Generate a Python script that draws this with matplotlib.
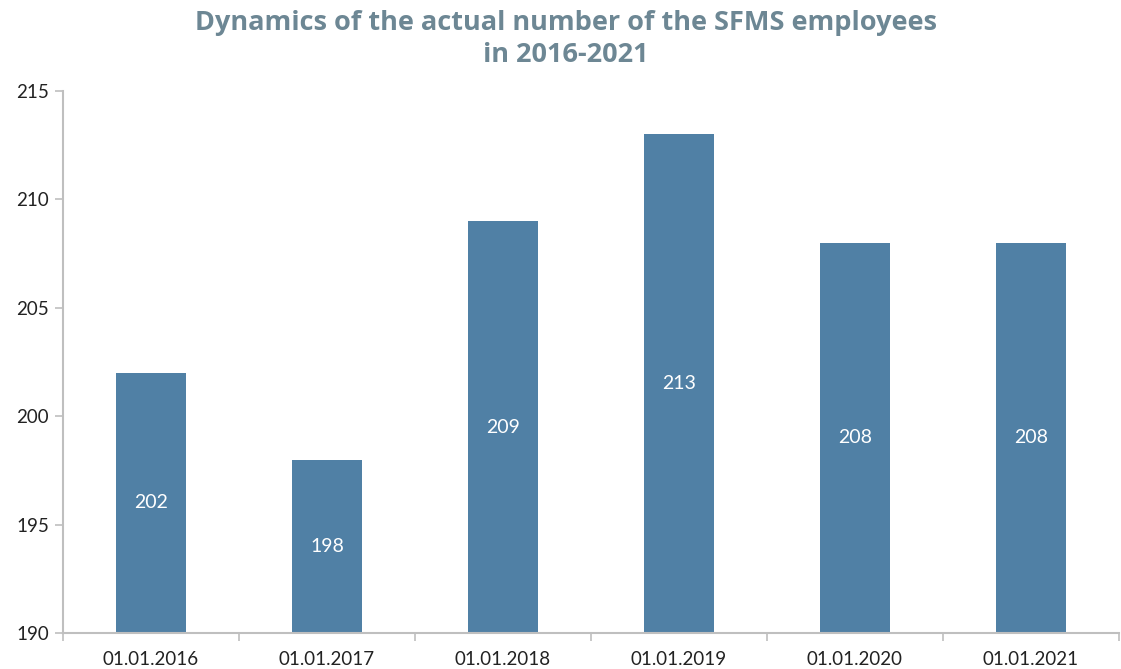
import matplotlib.pyplot as plt
import numpy as np

dates = ['01.01.2016', '01.01.2017', '01.01.2018', '01.01.2019', '01.01.2020', '01.01.2021']
employees = [202, 198, 209, 213, 208, 208]
y_ticks = [190, 195, 200, 205, 210, 215]

plt.rcParams['font.family'] = ['Lato', 'DejaVu Sans']

fig = plt.figure(figsize=(11.21, 6.69), dpi=100)
ax = fig.add_axes([0.0562, 0.0538, 0.942, 0.8102])

x = np.arange(len(dates))
ax.bar(x, employees, width=0.4, color='#5080a5', zorder=2)

# value labels, centred between the axis floor and the bar top
for xi, v in zip(x, employees):
    ax.text(xi, (v + 190) / 2, str(v), ha='center', va='center',
            color='white', fontsize=14)

ax.set_ylim(190, 215)
ax.set_xlim(-0.5, len(dates) - 0.5)
ax.set_yticks(y_ticks)
ax.set_yticklabels([str(t) for t in y_ticks], fontsize=13.5, color='#222222')

ax.set_xticks(x)
ax.set_xticklabels(dates, fontsize=13.5, color='#222222')
ax.tick_params(axis='x', length=0, pad=13)
ax.set_xticks(np.arange(len(dates) + 1) - 0.5, minor=True)
ax.tick_params(axis='x', which='minor', length=6, color='#bfbfbf', width=1.2)
ax.tick_params(axis='y', length=6, color='#bfbfbf', width=1.2, pad=4)

for s in ['top', 'right']:
    ax.spines[s].set_visible(False)
for s in ['left', 'bottom']:
    ax.spines[s].set_color('#bfbfbf')
    ax.spines[s].set_linewidth(1.5)

fig.suptitle('Dynamics of the actual number of the SFMS employees\nin 2016-2021',
             x=0.505, y=0.985, fontsize=19.5, fontweight='bold', color='#6d8794',
             family=['Open Sans', 'DejaVu Sans'], linespacing=1.3)

fig.savefig('out.png', dpi=100)
